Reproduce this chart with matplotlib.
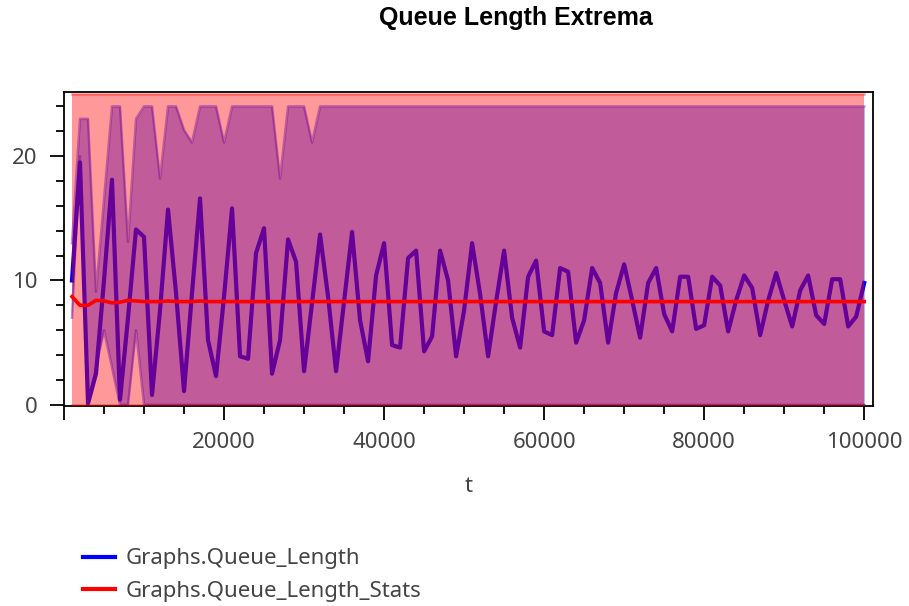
#!/usr/bin/env python3

import matplotlib
matplotlib.use("Agg")
import matplotlib.pyplot as plt
from matplotlib.lines import Line2D

# sample times (every 1000)
t = list(range(1000, 100001, 1000))

queue_length = [
    10, 19.5, 0.1, 2.5, 10, 18.1, 0.4, 7, 14.1, 13.5,
    0.8, 7.6, 15.7, 9.0, 1.1, 9.0, 16.6, 5.2, 2.3, 8.7,
    15.8, 3.9, 3.7, 12.2, 14.2, 2.5, 5.2, 13.3, 11.5, 2.7,
    8.2, 13.7, 8.7, 2.7, 8.3, 13.9, 6.8, 3.5, 10.4, 13.0,
    4.8, 4.6, 11.8, 12.4, 4.3, 5.5, 12.4, 10.0, 3.9, 7.6,
    13.0, 8.9, 3.9, 8.3, 12.4, 7.0, 4.6, 10.3, 11.6, 5.9,
    5.6, 11.0, 10.7, 5.0, 6.8, 11.0, 9.8, 5.0, 9.0, 11.3,
    8.4, 5.4, 9.8, 11.0, 7.3, 5.9, 10.3, 10.3, 6.1, 6.4,
    10.3, 9.6, 5.9, 8.4, 10.4, 9.4, 5.6, 8.4, 10.6, 8.4,
    6.3, 9.2, 10.4, 7.2, 6.5, 10.1, 10.1, 6.3, 7.1, 9.8,
]

queue_max = [
    13, 23, 23, 9.1, 16.5, 24, 24, 13.1, 23, 24,
    24, 18.2, 24, 24, 22.1, 21.1, 24, 24, 24, 21.1,
    24, 24, 24, 24, 24, 24, 18.2, 24, 24, 24,
    21.1, 24, 24, 24, 24, 24, 24, 24, 24, 24,
    24, 24, 24, 24, 24, 24, 24, 24, 24, 24,
    24, 24, 24, 24, 24, 24, 24, 24, 24, 24,
    24, 24, 24, 24, 24, 24, 24, 24, 24, 24,
    24, 24, 24, 24, 24, 24, 24, 24, 24, 24,
    24, 24, 24, 24, 24, 24, 24, 24, 24, 24,
    24, 24, 24, 24, 24, 24, 24, 24, 24, 24,
]

queue_min = [
    7, 20, 0, 3, 6, 3, 0, 0, 6, 0,
    0, 0, 0, 0, 0, 0, 0, 0, 0, 0,
    0, 0, 0, 0, 0, 0, 0, 0, 0, 0,
    0, 0, 0, 0, 0, 0, 0, 0, 0, 0,
    0, 0, 0, 0, 0, 0, 0, 0, 0, 0,
    0, 0, 0, 0, 0, 0, 0, 0, 0, 0,
    0, 0, 0, 0, 0, 0, 0, 0, 0, 0,
    0, 0, 0, 0, 0, 0, 0, 0, 0, 0,
    0, 0, 0, 0, 0, 0, 0, 0, 0, 0,
    0, 0, 0, 0, 0, 0, 0, 0, 0, 0,
]

stats_mean = [
    8.7, 8.0, 8.0, 8.4, 8.35, 8.2, 8.25, 8.4, 8.35, 8.3,
    8.3, 8.3, 8.35, 8.3, 8.3, 8.3, 8.35, 8.3, 8.3, 8.3,
    8.3, 8.3, 8.3, 8.3, 8.3, 8.3, 8.3, 8.3, 8.3, 8.3,
    8.3, 8.3, 8.3, 8.3, 8.3, 8.3, 8.3, 8.3, 8.3, 8.3,
    8.3, 8.3, 8.3, 8.3, 8.3, 8.3, 8.3, 8.3, 8.3, 8.3,
    8.3, 8.3, 8.3, 8.3, 8.3, 8.3, 8.3, 8.3, 8.3, 8.3,
    8.3, 8.3, 8.3, 8.3, 8.3, 8.3, 8.3, 8.3, 8.3, 8.3,
    8.3, 8.3, 8.3, 8.3, 8.3, 8.3, 8.3, 8.3, 8.3, 8.3,
    8.3, 8.3, 8.3, 8.3, 8.3, 8.3, 8.3, 8.3, 8.3, 8.3,
    8.3, 8.3, 8.3, 8.3, 8.3, 8.3, 8.3, 8.3, 8.3, 8.3,
]
stats_min = 0
stats_max = 25

x_ticks = [20000, 40000, 60000, 80000, 100000]
y_ticks = [0, 10, 20]

labels = ["Graphs.Queue_Length", "Graphs.Queue_Length_Stats"]


def main():
    plt.rcParams["font.family"] = ["Noto Sans", "DejaVu Sans"]

    fig = plt.figure(figsize=(9.09, 6.06), dpi=100)
    ax = fig.add_axes([0.0704, 0.330, 0.890, 0.518])

    # blue series: envelope (fill + min/max traces) and the line itself
    ax.fill_between(t, queue_min, queue_max, color="blue", alpha=0.4,
                    linewidth=0, zorder=1)
    ax.plot(t, queue_max, color="blue", alpha=0.4, linewidth=1.8, zorder=1)
    ax.plot(t, queue_min, color="blue", alpha=0.4, linewidth=1.8, zorder=1)
    ax.plot(t, queue_length, color="blue", linewidth=3, zorder=2)

    # red stats envelope drawn over, then the mean line
    ax.fill_between(t, stats_min, stats_max, color="red", alpha=0.4,
                    linewidth=0, zorder=3)
    ax.plot([t[0], t[-1]], [stats_max, stats_max], color="red", alpha=0.4,
            linewidth=1.8, zorder=3)
    ax.plot([t[0], t[-1]], [stats_min, stats_min], color="red", alpha=0.4,
            linewidth=1.8, zorder=3)
    ax.plot(t, stats_mean, color="red", linewidth=2.6, zorder=4)

    ax.set_xlim(0, 101100)
    ax.set_ylim(-0.1, 25.15)
    ax.set_xticks([0] + x_ticks)
    ax.set_xticklabels([""] + [str(v) for v in x_ticks])
    ax.set_xticks(range(0, 101000, 5000), minor=True)
    ax.set_yticks(y_ticks)
    ax.set_yticks(range(0, 26, 2), minor=True)

    ax.tick_params(which="major", length=10, width=1.3, labelsize=16,
                   labelcolor="#444444", pad=9)
    ax.tick_params(which="minor", length=5.5, width=1.3)
    for s in ax.spines.values():
        s.set_linewidth(1.3)

    ax.set_xlabel("t", fontsize=16, color="#444444", labelpad=16)

    fig.text(0.568, 0.970, "Queue Length Extrema", ha="center", va="center",
             fontsize=18, fontweight="bold", family="Liberation Sans")

    handles = [Line2D([], [], color="blue", linewidth=3),
               Line2D([], [], color="red", linewidth=3)]
    fig.legend(handles, labels, loc="upper left",
               bbox_to_anchor=(0.0913, 0.095), frameon=False, fontsize=16,
               borderpad=0, borderaxespad=0, handlelength=1.45,
               handletextpad=0.45, labelspacing=0.52, labelcolor="#444444")

    plt.savefig("out.png", dpi=100)


if __name__ == "__main__":
    main()
